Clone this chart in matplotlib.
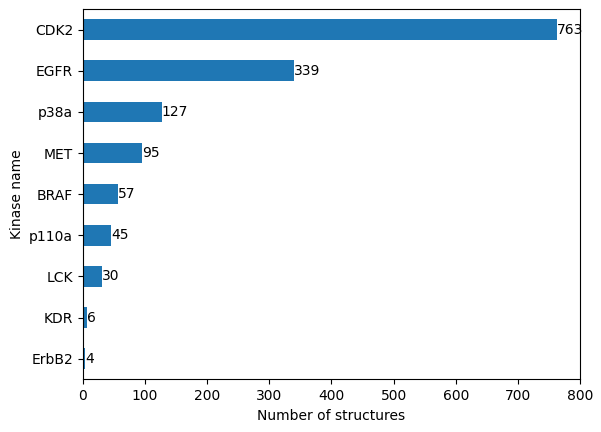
import matplotlib.pyplot as plt
import pandas as pd

kinases = ["CDK2", "EGFR", "p38a", "MET", "BRAF", "p110a", "LCK", "KDR", "ErbB2"]
counts = [763, 339, 127, 95, 57, 45, 30, 6, 4]

s = pd.Series(counts, index=kinases).sort_values()

fig, ax = plt.subplots(figsize=(6.01, 4.32), dpi=100)
fig.subplots_adjust(left=0.138, right=0.965, top=0.979, bottom=0.122)
s.plot(kind="barh", ax=ax, color="#1f77b4")
ax.bar_label(ax.containers[0])
ax.set_xlim(0, 800)
ax.set_xlabel("Number of structures")
ax.set_ylabel("Kinase name")
fig.savefig("out.png")
